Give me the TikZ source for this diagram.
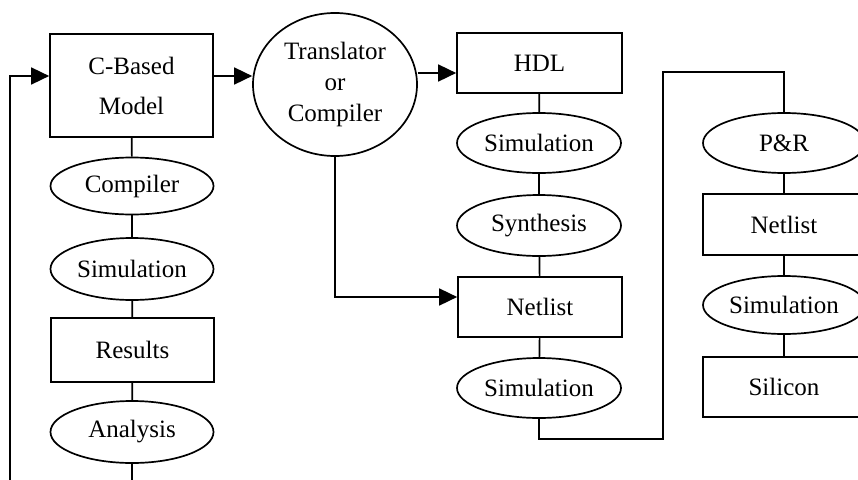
\documentclass[tikz,border=0pt]{standalone}
\usepackage{fontspec}
\setmainfont{Liberation Serif}
\usetikzlibrary{shapes.geometric,arrows.meta}

\tikzset{
  every node/.style={font=\fontsize{25}{31}\selectfont, inner sep=0pt},
  stepbox/.style={draw, line width=1.7pt, rectangle, minimum width=163pt, minimum height=60pt},
  stepoval/.style={draw, line width=1.7pt, ellipse, minimum width=163pt, minimum height=60pt},
  link/.style={line width=1.7pt},
  arr/.style={line width=1.7pt, -{Triangle[length=18pt,width=17pt]}},
}

\begin{document}
\begin{tikzpicture}[x=1pt,y=-1pt]
\useasboundingbox (0,0) rectangle (858,479);
\clip (0,0) rectangle (858,479);

% software path
\node[stepbox, minimum height=103pt, align=center] (cb) at (131.5,85.5) {C-Based\\[9pt]Model};
\node[stepoval, minimum height=57pt] (comp) at (132,186) {Compiler};
\node[stepoval, minimum height=62pt] (simA) at (132,269) {Simulation};
\node[stepbox, minimum height=64pt] (res) at (132.5,350) {Results};
\node[stepoval, minimum height=62pt] (ana) at (132,432) {Analysis};

% translation step
\node[draw, line width=1.7pt, ellipse, minimum width=164pt, minimum height=143pt, align=center] (tr) at (335,84.5) {Translator\\or\\Compiler};

% hardware path
\node[stepbox, minimum width=165pt] (hdl) at (539.5,63) {HDL};
\node[stepoval, minimum width=164pt] (simB) at (539,143) {Simulation};
\node[stepoval, minimum width=164pt, minimum height=61pt] (syn) at (539,225.5) {Synthesis};
\node[stepbox, minimum width=164pt] (netA) at (540,307) {Netlist};
\node[stepoval, minimum width=164pt] (simC) at (539,388) {Simulation};

% back end
\node[stepoval, minimum width=162pt] (pr) at (784,143) {P\&R};
\node[stepbox, minimum width=162pt, minimum height=61pt] (netB) at (784,224.5) {Netlist};
\node[stepoval, minimum width=162pt, minimum height=58pt] (simD) at (784,305) {Simulation};
\node[stepbox, minimum width=162pt] (sil) at (784,387) {Silicon};

% helper points
\coordinate (fb) at (10,490);
\coordinate (down) at (133,490);
\coordinate (bend) at (663,72);

% vertical chains
\draw[link] (cb) -- (comp);
\draw[link] (comp) -- (simA);
\draw[link] (simA) -- (res);
\draw[link] (res) -- (ana);
\draw[link] (ana.south) -- (ana.south |- down);

\draw[link] (hdl) -- (simB);
\draw[link] (simB) -- (syn);
\draw[link] (syn) -- (netA);
\draw[link] (netA) -- (simC);

\draw[link] (pr) -- (netB);
\draw[link] (netB) -- (simD);
\draw[link] (simD) -- (sil);

% arrows
\draw[arr] (fb) |- ([yshift=9.5pt]cb.west);
\draw[arr] ([yshift=9.5pt]cb.east) -- ([yshift=9.5pt]cb.east -| tr.west);
\draw[arr] ([yshift=11.5pt]tr.east) -- ([yshift=11.5pt]tr.east -| hdl.west);
\draw[arr] (tr.south) |- ([yshift=10pt]netA.west);

% to place and route
\draw[link] (simC.south) -- ++(0,20) -| (bend) -| (pr.north);
\end{tikzpicture}
\end{document}
